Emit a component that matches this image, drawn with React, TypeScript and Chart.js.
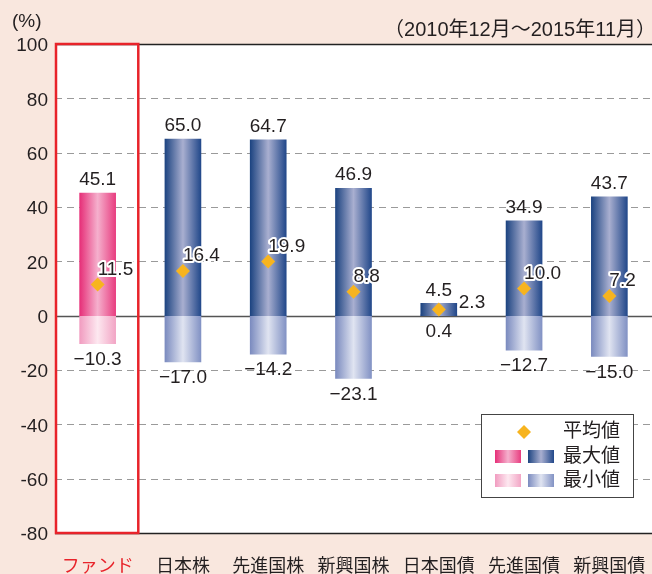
import React, { useEffect, useRef } from 'react';
import { Chart, registerables } from 'chart.js';

Chart.register(...registerables);

const categories = ['ファンド', '日本株', '先進国株', '新興国株', '日本国債', '先進国債', '新興国債'];
const maxValues = [45.1, 65.0, 64.7, 46.9, 4.5, 34.9, 43.7];
const minValues = [-10.3, -17.0, -14.2, -23.1, 0.4, -12.7, -15.0];
const avgValues = [11.5, 16.4, 19.9, 8.8, 2.3, 10.0, 7.2];
const yMin = -80;
const yMax = 100;
const yStep = 20;
const periodLabel = '（2010年12月～2015年11月）';
const unitLabel = '(%)';
const legendLabels = ['平均値', '最大値', '最小値'];

const FONT = "'Liberation Sans', 'Noto Sans CJK JP', sans-serif";
const BG = '#f9e7de';
const TEXT = '#231f20';
const RED = '#e8232a';
const DIAMOND = '#f7b41f';
const BAR_W = 36;

const PINK_MAX: [string, string, string] = ['#e62f78', '#f5b0cd', '#e83e80'];
const PINK_MIN: [string, string, string] = ['#f19cc0', '#fde8f0', '#f2a5c5'];
const BLUE_MAX: [string, string, string] = ['#1d4481', '#a9afd0', '#22488a'];
const BLUE_MIN: [string, string, string] = ['#7b8bbf', '#e0e4f1', '#8292c4'];

function grad(c: CanvasRenderingContext2D, x0: number, x1: number, s: [string, string, string]) {
  const g = c.createLinearGradient(x0, 0, x1, 0);
  g.addColorStop(0, s[0]);
  g.addColorStop(0.5, s[1]);
  g.addColorStop(1, s[2]);
  return g;
}

function barFill(kind: 'max' | 'min') {
  return (ctx: any) => {
    const fund = kind === 'max' ? PINK_MAX : PINK_MIN;
    const other = kind === 'max' ? BLUE_MAX : BLUE_MIN;
    if (ctx.type !== 'data') return other[0];
    const stops = ctx.dataIndex === 0 ? fund : other;
    const xs = ctx.chart.scales?.x;
    if (!xs) return stops[0];
    const cx = xs.getPixelForValue(ctx.dataIndex);
    if (!Number.isFinite(cx)) return stops[0];
    return grad(ctx.chart.ctx, cx - BAR_W / 2, cx + BAR_W / 2, stops);
  };
}

const fmt = (v: number) => v.toFixed(1).replace('-', '−');

function diamond(c: CanvasRenderingContext2D, x: number, y: number, r: number) {
  c.beginPath();
  c.moveTo(x, y - r);
  c.lineTo(x + r, y);
  c.lineTo(x, y + r);
  c.lineTo(x - r, y);
  c.closePath();
  c.fillStyle = DIAMOND;
  c.fill();
}

const decorPlugin = {
  id: 'decor',
  beforeDraw(chart: any) {
    const c = chart.ctx as CanvasRenderingContext2D;
    const a = chart.chartArea;
    c.save();
    c.fillStyle = BG;
    c.fillRect(0, 0, chart.width, chart.height);
    c.fillStyle = '#ffffff';
    c.fillRect(a.left, a.top, a.right - a.left, a.bottom - a.top);
    c.restore();
  },
  beforeDatasetsDraw(chart: any) {
    const c = chart.ctx as CanvasRenderingContext2D;
    const a = chart.chartArea;
    const ys = chart.scales.y;
    c.save();
    ys.ticks.forEach((t: any) => {
      const y = Math.round(ys.getPixelForValue(t.value)) + 0.5;
      c.beginPath();
      if (t.value === 0) {
        c.setLineDash([]);
        c.strokeStyle = '#555555';
        c.lineWidth = 1.3;
      } else if (t.value === yMax || t.value === yMin) {
        c.setLineDash([]);
        c.strokeStyle = '#222222';
        c.lineWidth = 1.5;
      } else {
        c.setLineDash([7, 5]);
        c.strokeStyle = '#9a9a9a';
        c.lineWidth = 1;
      }
      c.moveTo(a.left, y);
      c.lineTo(a.right, y);
      c.stroke();
    });
    c.restore();
  },
  afterDatasetsDraw(chart: any) {
    const c = chart.ctx as CanvasRenderingContext2D;
    const xs = chart.scales.x;
    const ys = chart.scales.y;
    const zero = ys.getPixelForValue(0);
    c.save();
    c.font = `19px ${FONT}`;
    c.fillStyle = TEXT;
    c.textAlign = 'center';
    c.textBaseline = 'middle';
    categories.forEach((_, i) => {
      const x = xs.getPixelForValue(i);
      const top = ys.getPixelForValue(Math.max(maxValues[i], 0));
      c.fillText(fmt(maxValues[i]), x, top - 13);
      const bot = Math.max(ys.getPixelForValue(minValues[i]), zero);
      c.fillText(fmt(minValues[i]), x, bot + 16);
    });
    c.textAlign = 'left';
    c.lineJoin = 'round';
    categories.forEach((_, i) => {
      const x = xs.getPixelForValue(i);
      const y = ys.getPixelForValue(avgValues[i]);
      let lx = x;
      let ly = y - 15;
      if (maxValues[i] - avgValues[i] < 10) {
        lx = x + BAR_W / 2 + 2;
        ly = y - 7;
      }
      const s = fmt(avgValues[i]);
      c.strokeStyle = '#ffffff';
      c.lineWidth = 4;
      c.strokeText(s, lx, ly);
      c.fillStyle = TEXT;
      c.fillText(s, lx, ly);
    });
    c.restore();
  },
  afterDraw(chart: any) {
    const c = chart.ctx as CanvasRenderingContext2D;
    const a = chart.chartArea;
    const xs = chart.scales.x;
    c.save();
    const boundary = (xs.getPixelForValue(0) + xs.getPixelForValue(1)) / 2 - 2;
    c.strokeStyle = RED;
    c.lineWidth = 2.5;
    c.strokeRect(a.left + 1, a.top, boundary - a.left - 1, a.bottom - a.top);

    c.fillStyle = TEXT;
    c.textBaseline = 'middle';
    c.font = `19px ${FONT}`;
    c.textAlign = 'left';
    c.fillText(unitLabel, 12, 22);
    c.font = `20px ${FONT}`;
    c.textAlign = 'right';
    c.fillText(periodLabel, chart.width + 4, 30);

    const lx = a.right - 171;
    const ly = a.bottom - 119;
    const lw = 152;
    const lh = 83;
    c.fillStyle = '#ffffff';
    c.fillRect(lx, ly, lw, lh);
    c.strokeStyle = '#444444';
    c.lineWidth = 1;
    c.strokeRect(lx + 0.5, ly + 0.5, lw, lh);
    diamond(c, lx + 43, ly + 18, 7);
    const sw = 26;
    const sh = 13;
    const r2 = ly + 36;
    const r3 = ly + 60;
    c.fillStyle = grad(c, lx + 14, lx + 14 + sw, PINK_MAX);
    c.fillRect(lx + 14, r2, sw, sh);
    c.fillStyle = grad(c, lx + 47, lx + 47 + sw, BLUE_MAX);
    c.fillRect(lx + 47, r2, sw, sh);
    c.fillStyle = grad(c, lx + 14, lx + 14 + sw, PINK_MIN);
    c.fillRect(lx + 14, r3, sw, sh);
    c.fillStyle = grad(c, lx + 47, lx + 47 + sw, BLUE_MIN);
    c.fillRect(lx + 47, r3, sw, sh);
    c.fillStyle = TEXT;
    c.textAlign = 'left';
    c.font = `19px ${FONT}`;
    c.fillText(legendLabels[0], lx + 82, ly + 18);
    c.fillText(legendLabels[1], lx + 82, r2 + sh / 2);
    c.fillText(legendLabels[2], lx + 82, r3 + sh / 2);
    c.restore();
  },
};

export default function App() {
  const ref = useRef<HTMLCanvasElement | null>(null);
  useEffect(() => {
    if (!ref.current) return;
    const chart = new Chart(ref.current, {
      type: 'bar',
      data: {
        labels: categories,
        datasets: [
          {
            type: 'line',
            label: legendLabels[0],
            data: avgValues,
            showLine: false,
            pointStyle: 'rectRot',
            pointRadius: 7,
            pointBackgroundColor: DIAMOND,
            pointBorderWidth: 0,
            borderColor: DIAMOND,
            order: 0,
          } as any,
          {
            type: 'bar',
            label: legendLabels[1],
            data: maxValues.map((v) => [0, v]),
            backgroundColor: barFill('max'),
            borderWidth: 0,
            barThickness: BAR_W,
            grouped: false,
            order: 1,
          } as any,
          {
            type: 'bar',
            label: legendLabels[2],
            data: minValues.map((v) => [0, v]),
            backgroundColor: barFill('min'),
            borderWidth: 0,
            barThickness: BAR_W,
            grouped: false,
            order: 2,
          } as any,
        ],
      },
      options: {
        responsive: false,
        animation: false,
        devicePixelRatio: 1,
        layout: { autoPadding: false, padding: { top: 44, left: 0, right: 0, bottom: 0 } },
        plugins: { legend: { display: false }, tooltip: { enabled: false }, title: { display: false } },
        scales: {
          x: {
            type: 'category',
            offset: true,
            grid: { display: false, drawTicks: false },
            border: { display: false },
            ticks: {
              font: { size: 18, family: FONT },
              color: (ctx: any) => (ctx.index === 0 ? RED : TEXT),
              padding: 23,
              maxRotation: 0,
              autoSkip: false,
            },
            afterFit: (s: any) => {
              s.height = 41;
              s.paddingLeft = 0;
              s.paddingRight = 0;
            },
          },
          y: {
            min: yMin,
            max: yMax,
            grid: { display: false, drawTicks: false },
            border: { display: false },
            ticks: {
              stepSize: yStep,
              font: { size: 19, family: FONT },
              color: TEXT,
              padding: 7,
              labelOffset: 2,
            },
            afterFit: (s: any) => {
              s.width = 55;
              s.paddingTop = 0;
              s.paddingBottom = 0;
            },
          },
        },
      } as any,
      plugins: [decorPlugin],
    });
    return () => chart.destroy();
  }, []);
  return (
    <div style={{ position: 'fixed', left: 0, top: 0, width: 652, height: 574 }}>
      <canvas ref={ref} width={652} height={574} style={{ display: 'block' }} />
    </div>
  );
}
